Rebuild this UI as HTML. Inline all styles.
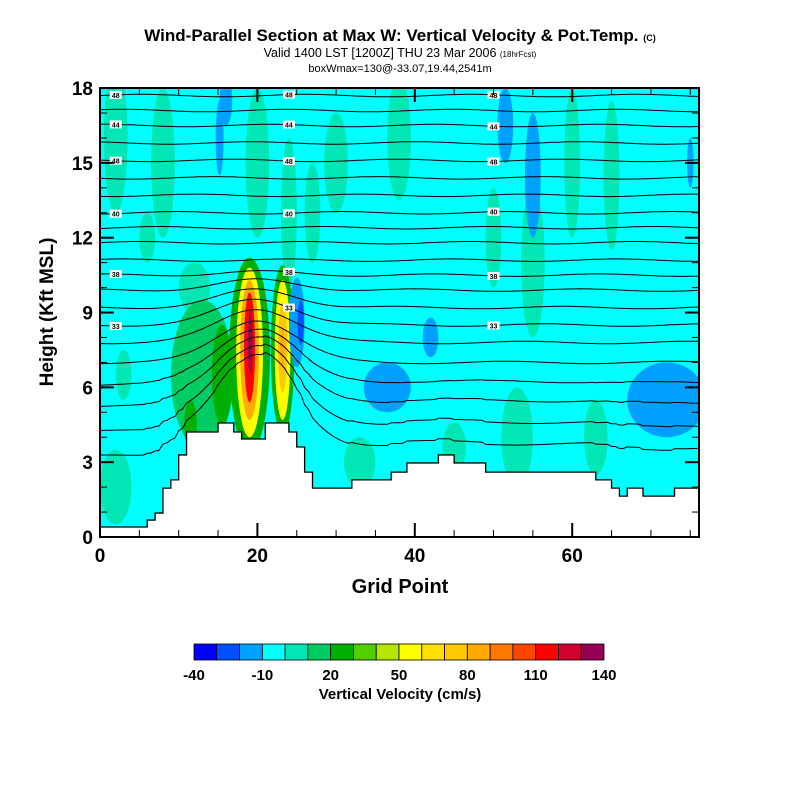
<!DOCTYPE html>
<html><head><meta charset="utf-8">
<style>
html,body{margin:0;padding:0;background:#fff;}
svg{display:block;font-family:"Liberation Sans",Arial,sans-serif;}
</style></head>
<body>
<svg id="chart" width="800" height="800" viewBox="0 0 800 800" xmlns="http://www.w3.org/2000/svg">
<rect width="800" height="800" fill="#fff"/>
<text x="400" y="41" text-anchor="middle" font-size="17" font-weight="bold">Wind-Parallel Section at Max W: Vertical Velocity &amp; Pot.Temp. <tspan font-size="9">(C)</tspan></text>
<text x="400" y="57" text-anchor="middle" font-size="12.5">Valid 1400 LST [1200Z] THU 23 Mar 2006 <tspan font-size="8">(18hrFcst)</tspan></text>
<text x="400" y="72" text-anchor="middle" font-size="11">boxWmax=130@-33.07,19.44,2541m</text>
<defs><clipPath id="plotclip"><rect x="100" y="88" width="599" height="449"/></clipPath></defs>
<g id="plot" clip-path="url(#plotclip)">
<rect x="100" y="88" width="599" height="449" fill="#00ffff"/>
<g id="blobs"></g>
<g id="isentropes"></g>
<g id="terrain"></g>
</g>
<g id="axes"></g>
<text x="400" y="593" text-anchor="middle" font-size="20" font-weight="bold">Grid Point</text>
<text transform="translate(53,312) rotate(-90)" text-anchor="middle" font-size="19" font-weight="bold">Height (Kft MSL)</text>
<g id="colorbar"></g>
<text x="400" y="699" text-anchor="middle" font-size="15" font-weight="bold">Vertical Velocity (cm/s)</text>
</svg>
<script>
// ---- data ----
const terrainHeights = [0.4,0.4,0.4,0.4,0.4,0.4,0.68,0.96,1.96,2.29,3.29,4.21,4.21,4.21,4.21,4.57,4.57,4.21,3.93,3.93,3.93,4.57,4.57,4.57,4.21,3.61,2.6,1.96,1.96,1.96,1.96,1.96,2.29,2.29,2.29,2.29,2.29,2.6,2.6,2.97,2.97,2.97,2.97,3.29,3.29,2.97,2.97,2.97,2.97,2.6,2.6,2.6,2.6,2.6,2.6,2.6,2.6,2.6,2.6,2.6,2.6,2.6,2.6,2.29,2.29,1.96,1.64,1.96,1.96,1.64,1.64,1.64,1.64,1.96,1.96,1.96,1.96];
// velocity features: center grid point, center height (kft), half-width (grid), half-height (kft), value (cm/s)
const blobX   = [2,8,6,20,24,30,38,50,55,53,60,65,45,33,2,12,63, 13,15.5,11.5, 19,19,19,19,19.1, 23.2,23.2,23.2,23.2, 25,25.5, 16,15.2,51.5,55,36.5,72,42,75,3,27];
const blobH   = [16,15,12,15,13,15,16,12,11,4,15,14.5,3.6,3,2,10,4, 6.5,6.5,4.5, 7.3,7.4,7.5,7.6,7.8, 7.5,7.5,7.6,7.6, 8.6,8.6, 17.5,16,16.5,14.5,6,5.5,8,15,6.5,13];
const blobRx  = [1.5,1.5,1,1.5,1,1.5,1.5,1,1.5,2,1,1,1.5,2,2,2,1.5, 4,1.3,0.8, 2.6,1.7,1.2,0.7,0.3, 1.5,1,0.6,0.3, 1,0.4, 0.8,0.5,1,1,3,5,1,0.4,1,1];
const blobRy  = [3,3,1,3,3,2,2.5,2,3,2,3,3,1,1,1.5,1,1.5, 3,2,1, 3.9,3.4,2.8,2.2,1.2, 3.4,2.8,1.8,0.8, 1.8,0.9, 1,1.5,1.5,2.5,1,1.5,0.8,1,1,2];
const blobVal = [5,5,5,5,5,5,5,5,5,5,5,5,5,5,5,5,5, 15,25,25, 20,50,80,110,130, 20,50,70,85, -15,-30, -15,-15,-15,-15,-15,-15,-15,-15,5,5];
// potential temperature contours: base heights (kft) at left edge
const thetaBase = [17.7,17.1,16.5,15.8,15.1,14.4,13.7,13.0,12.4,11.8,11.1,10.5,9.9,9.2,8.5,7.8,7.0,6.2,5.4,4.5,3.6];
const thetaLabels = ["48","","44","","48","","","40","","","","38","","","33","","","","","",""];
// colorbar
const cbColors = ["#0000ff","#0050ff","#00a0ff","#00ffff","#00e6b4","#00cc64","#00b000","#50d000","#b4e600","#ffff00","#ffe000","#ffc800","#ffaa00","#ff7800","#ff4600","#ff0000","#d2002d","#960050"];
const cbTicks = ["-40","-10","20","50","80","110","140"];
const xTicks = [0,20,40,60];
const yTicks = [0,3,6,9,12,15,18];

// ---- scales ----
function gx(g){return 100 + g*7.87;}
function hy(h){return 537 - h*24.94;}
function valColor(v){let i=Math.floor((v+40)/10); i=Math.max(0,Math.min(17,i)); return cbColors[i];}
const NS="http://www.w3.org/2000/svg";
function mk(tag,attrs,parent){const e=document.createElementNS(NS,tag);for(const k in attrs)e.setAttribute(k,attrs[k]);parent.appendChild(e);return e;}

// blobs
const gb=document.getElementById('blobs');
for(let i=0;i<blobX.length;i++){
  const e=mk('ellipse',{cx:gx(blobX[i]),cy:hy(blobH[i]),rx:blobRx[i]*7.87,ry:blobRy[i]*24.94,fill:valColor(blobVal[i])},gb);
  
  
}

// terrain
function terr(g){const i=Math.max(0,Math.min(terrainHeights.length-1,Math.floor(g)));return terrainHeights[i];}
let d='M'+gx(0)+','+hy(-1);
for(let i=0;i<terrainHeights.length;i++){d+=' L'+gx(i)+','+hy(terrainHeights[i])+' L'+gx(i+1)+','+hy(terrainHeights[i]);}
d+=' L'+gx(terrainHeights.length)+','+hy(-1)+' Z';
const tp=mk('path',{d:d,fill:'#fff',stroke:'#000','stroke-width':1.3},document.getElementById('terrain'));



// isentropes
const gi=document.getElementById('isentropes');
function thetaH(b,k,g){
  const A=Math.max(0,(10.8-b)*0.45);
  let h=b+A*Math.exp(-Math.pow((g-20)/7,2))+0.05*Math.sin(g*0.3+k*0.7);
  if(b<7) h+=(terr(g)-2)*0.2*(7-b)/3;
  return h;
}
thetaBase.forEach((b,k)=>{
  let pts=[];
  for(let g=0;g<=76;g+=0.5){
    let h=thetaH(b,k,g);
    if(h<terr(g)) h=terr(g);
    pts.push(gx(g).toFixed(1)+','+hy(h).toFixed(1));
  }
  const p=mk('polyline',{points:pts.join(' '),fill:'none',stroke:'#000','stroke-width':1},gi);
  
  
  if(thetaLabels[k]){
    [2,24,50].forEach(g=>{
      const h=thetaH(b,k,g);
      mk('rect',{x:gx(g)-6,y:hy(h)-4,width:12,height:8,fill:'#fff'},gi);
      const t=mk('text',{x:gx(g),y:hy(h)+3,'font-size':7,'text-anchor':'middle','font-weight':'bold'},gi);
      t.textContent=thetaLabels[k];
      
      
    });
  }
});

// axes
const ga=document.getElementById('axes');
const fr=mk('rect',{x:100,y:88,width:599,height:449,fill:'none',stroke:'#000','stroke-width':2},ga);


for(let g=0;g<=76;g+=5){
  const L=(g%20===0)?14:7;
  mk('line',{x1:gx(g),y1:537,x2:gx(g),y2:537-L,stroke:'#000','stroke-width':(g%20===0)?2:1},ga);
  mk('line',{x1:gx(g),y1:88,x2:gx(g),y2:88+L,stroke:'#000','stroke-width':(g%20===0)?2:1},ga);
}
for(let h=0;h<=18;h++){
  const L=(h%3===0)?14:7;
  mk('line',{x1:100,y1:hy(h),x2:100+L,y2:hy(h),stroke:'#000','stroke-width':(h%3===0)?2:1},ga);
  mk('line',{x1:699,y1:hy(h),x2:699-L,y2:hy(h),stroke:'#000','stroke-width':(h%3===0)?2:1},ga);
}
xTicks.forEach(v=>{const t=mk('text',{x:gx(v),y:562,'text-anchor':'middle','font-size':19,'font-weight':'bold'},ga);t.textContent=v;
  
  });
yTicks.forEach(v=>{const t=mk('text',{x:93,y:hy(v)+7,'text-anchor':'end','font-size':19,'font-weight':'bold'},ga);t.textContent=v;
  
  });

// colorbar
const gc=document.getElementById('colorbar');
const cbx=194,cbw=410/18;
cbColors.forEach((c,i)=>{const r=mk('rect',{x:cbx+i*cbw,y:644,width:cbw,height:16,fill:c,stroke:'#000','stroke-width':0.8},gc);
  
  });
cbTicks.forEach((s,i)=>{const t=mk('text',{x:cbx+i*3*cbw,y:680,'text-anchor':'middle','font-size':15,'font-weight':'bold'},gc);t.textContent=s;
  
  });
</script>
</body></html>
